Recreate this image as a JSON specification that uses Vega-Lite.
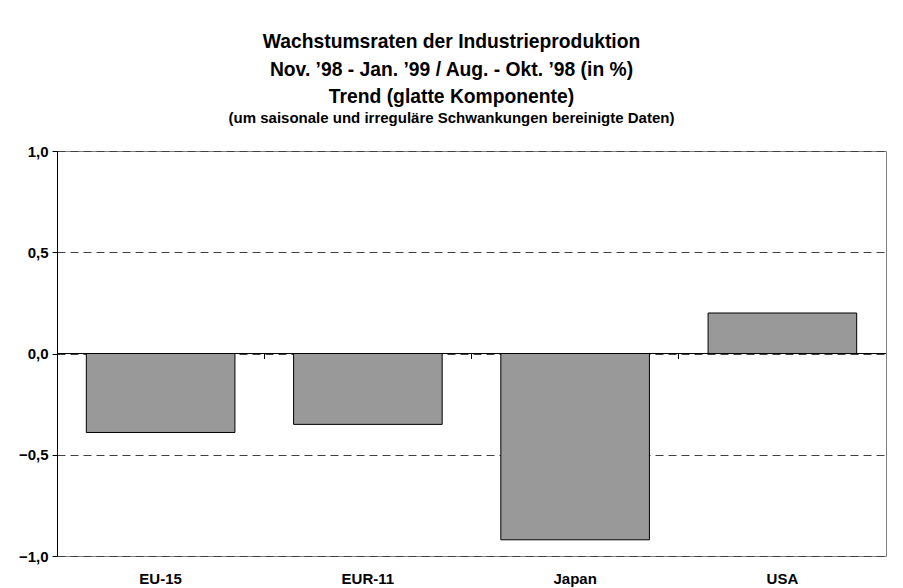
{
  "$schema": "https://vega.github.io/schema/vega-lite/v6.json",
  "width": 829,
  "height": 405,
  "autosize": "none",
  "padding": {"left": 57, "top": 151, "right": 17, "bottom": 32},
  "background": "#ffffff",
  "title": {
    "text": ["Wachstumsraten der Industrieproduktion", "Nov. ’98 - Jan. ’99 / Aug. - Okt. ’98 (in %)", "Trend (glatte Komponente)"],
    "subtitle": "(um saisonale und irreguläre Schwankungen bereinigte Daten)",
    "anchor": "middle",
    "dx": -20,
    "offset": 18,
    "font": "Liberation Sans",
    "fontSize": 19.3,
    "fontWeight": "bold",
    "color": "#000000",
    "lineHeight": 27.5,
    "subtitleFont": "Liberation Sans",
    "subtitleFontSize": 15,
    "subtitleFontWeight": "bold",
    "subtitleColor": "#000000",
    "subtitlePadding": 3.5
  },
  "data": {
    "values": [
      {"land": "EU-15", "wert": -0.39},
      {"land": "EUR-11", "wert": -0.35},
      {"land": "Japan", "wert": -0.92},
      {"land": "USA", "wert": 0.2}
    ]
  },
  "layer": [
    {
      "mark": {"type": "bar", "fill": "#999999", "stroke": "#000000", "strokeWidth": 1},
      "encoding": {
        "x": {
          "field": "land", "type": "nominal", "sort": null,
          "scale": {"paddingInner": 0.283, "paddingOuter": 0.1415},
          "axis": {
            "orient": "bottom", "title": null, "labelAngle": 0, "ticks": false, "domain": false,
            "labelFont": "Liberation Sans", "labelFontWeight": "bold", "labelFontSize": 15,
            "labelColor": "#000000", "labelPadding": 15
          }
        },
        "y": {
          "field": "wert", "type": "quantitative",
          "scale": {"domain": [-1, 1], "nice": false},
          "axis": {
            "values": [-1, -0.5, 0, 0.5, 1],
            "labelExpr": "replace(format(datum.value, '.1f'), '.', ',')",
            "title": null,
            "grid": true, "gridDash": [8, 5], "gridColor": "#404040", "gridOpacity": 1,
            "domainColor": "#000000", "tickColor": "#000000", "tickSize": 5,
            "labelFont": "Liberation Sans", "labelFontWeight": "bold", "labelFontSize": 15,
            "labelColor": "#000000", "labelPadding": 4
          }
        }
      }
    },
    {
      "mark": {"type": "bar", "opacity": 0},
      "encoding": {
        "x": {
          "field": "land", "type": "nominal", "sort": null,
          "axis": {
            "orient": "bottom", "offset": -202.5, "title": null, "labels": false, "domain": false,
            "ticks": true, "bandPosition": -0.197, "tickColor": "#000000", "tickSize": 5, "grid": false
          }
        },
        "y": {"field": "wert", "type": "quantitative"}
      }
    },
    {
      "mark": {"type": "rule", "stroke": "#000000", "strokeWidth": 1},
      "encoding": {"y": {"datum": 0}}
    }
  ],
  "resolve": {"axis": {"x": "independent"}},
  "config": {
    "view": {"stroke": "#808080", "strokeWidth": 1}
  }
}
